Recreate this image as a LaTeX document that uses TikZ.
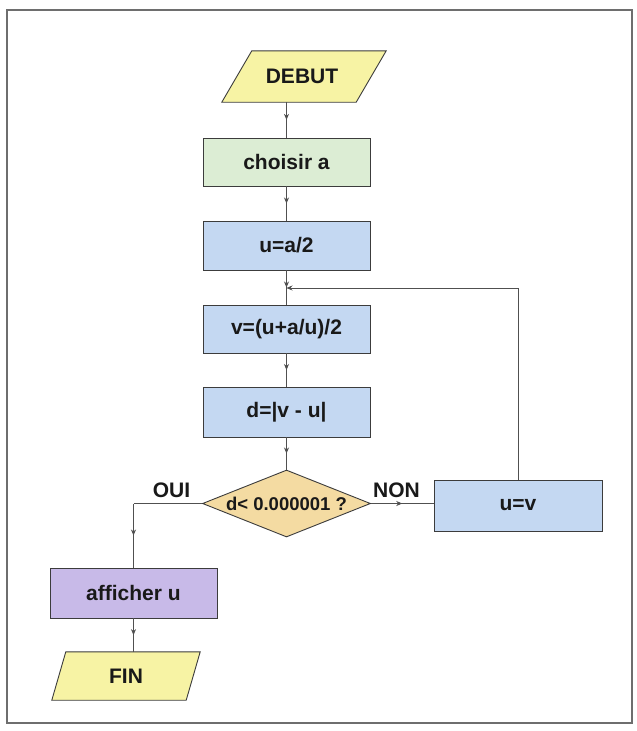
\documentclass[tikz,border=0pt]{standalone}
\usepackage{fontspec}
\setmainfont{Liberation Sans}
\usetikzlibrary{shapes.geometric,decorations.markings,arrows.meta,backgrounds}

\definecolor{edge}{RGB}{60,60,60}
\definecolor{wire}{RGB}{80,80,80}
\definecolor{frameline}{RGB}{110,110,110}
\definecolor{iofill}{RGB}{247,243,164}
\definecolor{initfill}{RGB}{220,237,212}
\definecolor{calcfill}{RGB}{196,216,242}
\definecolor{testfill}{RGB}{244,219,162}
\definecolor{outfill}{RGB}{200,186,232}
\definecolor{ink}{RGB}{25,25,25}

\tikzset{
  box/.style={rectangle, draw=edge, line width=0.9pt, minimum width=167pt,
    minimum height=49pt, inner sep=0pt, text=ink},
  iotext/.style={rectangle, minimum width=134pt, inner sep=0pt, text=ink},
  iopath/.style={draw=edge, line width=0.9pt, fill=iofill},
  testbox/.style={diamond, aspect=2.5, draw=edge, line width=0.9pt, fill=testfill,
    minimum width=168pt, minimum height=67pt, inner sep=0pt, text=ink,
    font=\bfseries\fontsize{18.5}{22}\selectfont},
  flow/.style={draw=wire, line width=0.7pt},
  midarrow/.style={postaction={decorate}, decoration={markings,
    mark=at position 0.5 with {\arrow{Stealth[length=6pt,width=5pt]}}}},
  endarrow/.style={-{Stealth[length=6pt,width=5pt]}},
  lab/.style={inner sep=0pt, text=ink}
}

\begin{document}
\begin{tikzpicture}[x=1pt, y=-1pt, font=\bfseries\fontsize{21}{25}\selectfont]
\useasboundingbox (0,0) rectangle (637,731);

% outer frame
\draw[frameline, line width=1.2pt] (7,10) rectangle (632,723);

% terminal nodes (text carriers; parallelograms drawn behind)
\node[iotext, minimum height=51pt] (debut) at (302,76.5) {DEBUT};
\node[iotext, minimum height=48pt] (fin) at (126,676) {FIN};

% processing boxes
\node[box, fill=initfill, minimum height=48pt] (choix) at (286.5,162) {choisir a};
\node[box, fill=calcfill] (ua) at (286.5,245.5) {u=a/2};
\node[box, fill=calcfill, minimum height=48pt] (v) at (286.5,329) {v=(u+a/u)/2};
\node[box, fill=calcfill, minimum height=50pt] (d) at (286.5,412) {d=|v - u|};
\node[testbox] (test) at (286.5,503.5) {d< 0.000001 ?};
\node[box, fill=calcfill, minimum width=168pt, minimum height=51pt] (uv) at (518,505.5) {u=v};
\node[box, fill=outfill, minimum height=50pt] (aff) at (133.5,593) {afficher u};

% branch labels
\node[lab] (oui) at (171.5,490) {OUI};
\node[lab] (non) at (396.5,490) {NON};

% parallelograms for start and end
\begin{pgfonlayer}{background}
  \fill[white] (0,0) rectangle (637,731);
  \path[iopath] ([xshift=-13pt]debut.south west) -- ([xshift=-13pt]debut.south east)
     -- ([xshift=17pt]debut.north east) -- ([xshift=17pt]debut.north west) -- cycle;
  \path[iopath] ([xshift=-7pt]fin.south west) -- ([xshift=-7pt]fin.south east)
     -- ([xshift=7pt]fin.north east) -- ([xshift=7pt]fin.north west) -- cycle;
\end{pgfonlayer}

% junction of the loop on the main column
\coordinate (loopin) at (286.5,288);
\coordinate (ouicorner) at (aff.north |- test.west);

% connectors
\draw[flow, midarrow] (choix.north |- debut.south) -- (choix.north);
\draw[flow, midarrow] (choix.south) -- (ua.north);
\draw[flow, midarrow] (ua.south) -- (v.north);
\draw[flow, midarrow] (v.south) -- (d.north);
\draw[flow, midarrow] (d.south) -- (test.north);
\draw[flow, midarrow] (test.east) -- (uv.west |- test.east);
\draw[flow, endarrow] (uv.north) |- (loopin);
\draw[flow] (test.west) -- (ouicorner);
\draw[flow, midarrow] (ouicorner) -- (aff.north);
\draw[flow, midarrow] (aff.south) -- (aff.south |- fin.north);
\end{tikzpicture}
\end{document}
